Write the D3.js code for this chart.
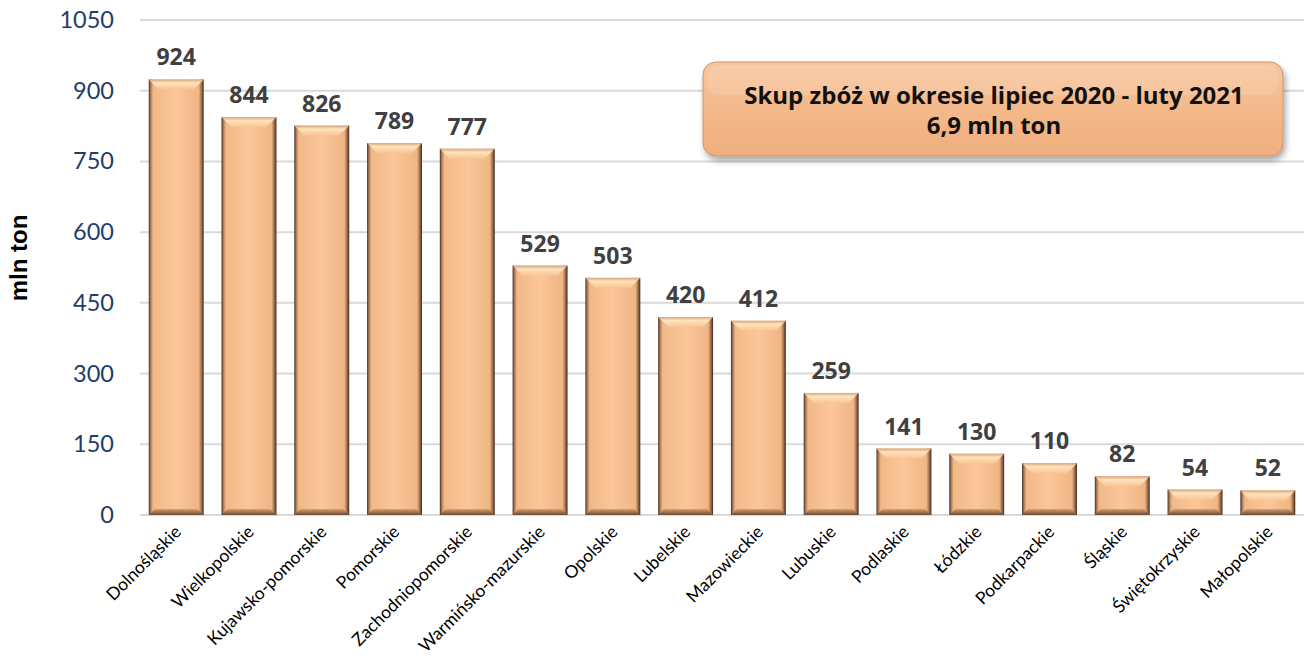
<!DOCTYPE html>
<html><head><meta charset="utf-8">
<script src="https://cdn.jsdelivr.net/npm/d3@7"></script>
<style>body{margin:0;background:#fff}svg{display:block}</style>
</head><body>
<svg id="c" width="1304" height="661"></svg>
<script>
const categories = ["Dolnośląskie","Wielkopolskie","Kujawsko-pomorskie","Pomorskie","Zachodniopomorskie","Warmińsko-mazurskie","Opolskie","Lubelskie","Mazowieckie","Lubuskie","Podlaskie","Łódzkie","Podkarpackie","Śląskie","Świętokrzyskie","Małopolskie"];
const values = [924,844,826,789,777,529,503,420,412,259,141,130,110,82,54,52];
const yTicks = [0,150,300,450,600,750,900,1050];
const titleLines = ["Skup zbóż w okresie lipiec 2020 - luty 2021","6,9 mln ton"];
const yLabel = "mln ton";

const svg = d3.select("#c");
const defs = svg.append("defs");
const hg = defs.append("linearGradient").attr("id","hg").attr("x1",0).attr("x2",1).attr("y1",0).attr("y2",0);
[[0,"#4a3020"],[0.035,"#a87a58"],[0.08,"#f2b987"],[0.5,"#fbc699"],[0.91,"#f0b583"],[0.96,"#9a6e4e"],[1,"#3d2818"]].forEach(s=>hg.append("stop").attr("offset",s[0]).attr("stop-color",s[1]));
const tg = defs.append("linearGradient").attr("id","tg").attr("x1",0).attr("x2",0).attr("y1",0).attr("y2",1);
[[0,"#d9a47a"],[0.35,"#ffe3bd"],[1,"#f9c495"]].forEach(s=>tg.append("stop").attr("offset",s[0]).attr("stop-color",s[1]));
const bg = defs.append("linearGradient").attr("id","bg").attr("x1",0).attr("x2",0).attr("y1",0).attr("y2",1);
[[0,"#d7a074"],[1,"#6a4a33"]].forEach(s=>bg.append("stop").attr("offset",s[0]).attr("stop-color",s[1]));
const boxg = defs.append("linearGradient").attr("id","boxg").attr("x1",0).attr("x2",0).attr("y1",0).attr("y2",1);
[[0,"#f7c69e"],[0.5,"#f4b98a"],[1,"#efae7e"]].forEach(s=>boxg.append("stop").attr("offset",s[0]).attr("stop-color",s[1]));
const sh = defs.append("filter").attr("id","sh").attr("x","-10%").attr("y","-20%").attr("width","125%").attr("height","150%");
sh.append("feDropShadow").attr("dx",2).attr("dy",4).attr("stdDeviation",3).attr("flood-color","#000").attr("flood-opacity",0.35);

const x = d3.scaleBand().domain(categories).range([140,1304]).paddingInner(0.245).paddingOuter(0.12);
const y = d3.scaleLinear().domain([0,1050]).range([515,20]);

// gridlines
svg.append("g").selectAll("line").data(yTicks).join("line")
  .attr("x1",140).attr("x2",1304).attr("y1",d=>y(d)).attr("y2",d=>y(d))
  .attr("stroke","#d9d9d9").attr("stroke-width",2);

// y axis labels
const yAxis = svg.append("g").attr("transform","translate(114,0)")
  .call(d3.axisLeft(y).tickValues(yTicks).tickFormat(d3.format("d")).tickSize(0).tickPadding(0));
yAxis.select(".domain").remove();
yAxis.selectAll("text").attr("fill","#1f3d6b").attr("font-family","Lato, 'Open Sans', sans-serif").attr("font-size",23.5);

svg.append("text").attr("transform","translate(27,258) rotate(-90)").attr("text-anchor","middle")
  .attr("font-family","'Liberation Sans', Arial, sans-serif").attr("font-weight","bold").attr("font-size",24).attr("fill","#000").text(yLabel);

// bars
const bw = x.bandwidth();
const g = svg.append("g").selectAll("g").data(categories).join("g");
g.append("rect").attr("x",d=>x(d)).attr("width",bw)
  .attr("y",(d,i)=>y(values[i])).attr("height",(d,i)=>y(0)-y(values[i]))
  .attr("fill","url(#hg)");
const bev = 10;
g.append("path").attr("d",(d,i)=>{const x0=x(d),y0=y(values[i]);const h=Math.min(bev,(y(0)-y0)/2);
  return `M${x0},${y0}L${x0+bw},${y0}L${x0+bw-h},${y0+h}L${x0+h},${y0+h}Z`;}).attr("fill","url(#tg)");
g.append("path").attr("d",(d,i)=>{const x0=x(d),y0=y(0);const h=Math.min(6,(y(0)-y(values[i]))/3);
  return `M${x0},${y0}L${x0+bw},${y0}L${x0+bw-h},${y0-h}L${x0+h},${y0-h}Z`;}).attr("fill","url(#bg)");

// value labels
svg.append("g").selectAll("text").data(categories).join("text")
  .attr("x",d=>x(d)+bw/2).attr("y",(d,i)=>y(values[i])-14)
  .attr("text-anchor","middle").attr("font-family","'Open Sans', sans-serif").attr("font-weight","bold")
  .attr("font-size",23).attr("fill","#404040").text((d,i)=>values[i]);

// category labels
svg.append("g").selectAll("text").data(categories).join("text")
  .attr("transform",d=>`translate(${x(d)+bw/2+6},${533}) rotate(-45)`)
  .attr("text-anchor","end").attr("font-family","Lato, 'Open Sans', sans-serif").attr("font-size",17.5).attr("fill","#000").text(d=>d);

// title box
svg.append("rect").attr("x",703).attr("y",62).attr("width",580).attr("height",94).attr("rx",13)
  .attr("fill","url(#boxg)").attr("stroke","#c89570").attr("stroke-width",1).attr("filter","url(#sh)");
svg.append("rect").attr("x",708).attr("y",65).attr("width",570).attr("height",30).attr("rx",11)
  .attr("fill","#fff").attr("opacity",0.12);
svg.selectAll(".tt").data(titleLines).join("text").attr("class","tt")
  .attr("x",994).attr("y",(d,i)=>104+i*30).attr("text-anchor","middle")
  .attr("font-family","'Open Sans', sans-serif").attr("font-weight","bold").attr("font-size",24).attr("fill","#111").text(d=>d);
</script>
</body></html>
